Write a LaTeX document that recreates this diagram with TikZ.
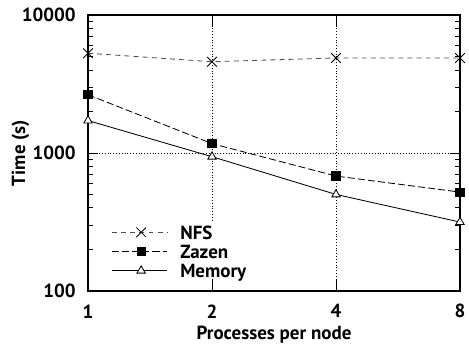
\documentclass[tikz,border=0pt]{standalone}
\usepackage{fontspec}
\setmainfont{PT Sans}
\usetikzlibrary{shapes.misc,shapes.geometric,calc}

\tikzset{
  frameline/.style={line width=1.3pt},
  tickline/.style={line width=0.7pt},
  gridline/.style={line width=0.6pt, dash pattern=on 0.6pt off 1.4pt},
  nfsline/.style={line width=0.6pt, black!70, dash pattern=on 3.5pt off 3pt},
  zazenline/.style={line width=0.6pt, dash pattern=on 5pt off 2.2pt},
  memline/.style={line width=0.6pt},
  xmark/.style={cross out, draw, line width=0.6pt, minimum size=0.22cm, inner sep=0pt},
  sqmark/.style={rectangle, fill, minimum size=0.23cm, inner sep=0pt},
  trimark/.style={regular polygon, regular polygon sides=3, draw, fill=white, line width=0.6pt, minimum size=0.24cm, inner sep=0pt},
  lbl/.style={font=\fontsize{13.5}{15}\selectfont\bfseries, inner sep=0pt},
}

\begin{document}
\begin{tikzpicture}[x=3.1cm, y=3.4425cm]
  \useasboundingbox (-2.2cm,-1.4575cm) rectangle (9.525cm,7.2675cm);

  % grid
  \draw[gridline] (1,0) -- (1,2) (2,0) -- (2,2) (0,1) -- (3,1);

  % legend background hides the grid
  \fill[white] (0.42cm,0.32cm) rectangle (4.3cm,1.72cm);

  % ticks
  \foreach \d in {0,1}
    \foreach \m in {2,...,9} {
      \draw[tickline] (0,{\d+log10(\m)}) -- ++(0.125cm,0);
      \draw[tickline] (3,{\d+log10(\m)}) -- ++(-0.125cm,0);
    }
  \draw[tickline] (0,1) -- ++(0.25cm,0) (3,1) -- ++(-0.25cm,0);
  \foreach \p in {1,2} {
    \draw[tickline] (\p,0) -- ++(0,0.3cm);
    \draw[tickline] (\p,2) -- ++(0,-0.3cm);
  }
  \draw[frameline] (0,0) rectangle (3,2);

  % axis labels
  \node[lbl, anchor=east] (y100)   at (0,0) [xshift=-0.3cm] {100};
  \node[lbl, anchor=east] (y1000)  at (0,1) [xshift=-0.3cm] {1000};
  \node[lbl, anchor=east] (y10000) at (0,2) [xshift=-0.3cm] {10000};
  \node[lbl] (x1) at (0,0) [yshift=-0.515cm] {1};
  \node[lbl] (x2) at (1,0) [yshift=-0.515cm] {2};
  \node[lbl] (x4) at (2,0) [yshift=-0.515cm] {4};
  \node[lbl] (x8) at (3,0) [yshift=-0.515cm] {8};
  \node[lbl, anchor=base] (xlab) at (1.5,0) [yshift=-1.2325cm] {Processes per node};
  \node[lbl, rotate=90] (ylab) at ($(0,1)+(-1.69cm,0)$) {Time (s)};

  % data
  \coordinate (nfs1) at (0,1.7243);
  \coordinate (nfs2) at (1,1.6628);
  \coordinate (nfs4) at (2,1.6902);
  \coordinate (nfs8) at (3,1.6902);
  \coordinate (zaz1) at (0,1.4232);
  \coordinate (zaz2) at (1,1.0682);
  \coordinate (zaz4) at (2,0.8325);
  \coordinate (zaz8) at (3,0.7160);
  \coordinate (mem1) at (0,1.2355);
  \coordinate (mem2) at (1,0.9731);
  \coordinate (mem4) at (2,0.6990);
  \coordinate (mem8) at (3,0.4983);

  \draw[nfsline]   (nfs1) -- (nfs2) -- (nfs4) -- (nfs8);
  \draw[zazenline] (zaz1) -- (zaz2) -- (zaz4) -- (zaz8);
  \draw[memline]   (mem1) -- (mem2) -- (mem4) -- (mem8);
  \foreach \p in {1,2,4,8} {
    \node[xmark]   at (nfs\p) {};
    \node[sqmark]  at (zaz\p) {};
    \node[trimark] at (mem\p) {};
  }

  % legend
  \coordinate (lnfsa) at (0.6cm,1.46cm);
  \coordinate (lnfsb) at (1.975cm,1.46cm);
  \coordinate (lzaza) at (0.6cm,0.975cm);
  \coordinate (lzazb) at (1.975cm,0.975cm);
  \coordinate (lmema) at (0.6cm,0.5cm);
  \coordinate (lmemb) at (1.975cm,0.5cm);
  \draw[nfsline]   (lnfsa) -- (lnfsb);
  \draw[zazenline] (lzaza) -- (lzazb);
  \draw[memline]   (lmema) -- (lmemb);
  \node[xmark]   at ($(lnfsa)!0.53!(lnfsb)$) {};
  \node[sqmark]  at ($(lzaza)!0.53!(lzazb)$) {};
  \node[trimark] at ($(lmema)!0.53!(lmemb)$) {};
  \node[lbl, anchor=base west] (lnfs) at (2.3cm,1.28cm)  {NFS};
  \node[lbl, anchor=base west] (lzaz) at (2.3cm,0.805cm) {Zazen};
  \node[lbl, anchor=base west] (lmem) at (2.3cm,0.33cm)  {Memory};
\end{tikzpicture}
\end{document}
